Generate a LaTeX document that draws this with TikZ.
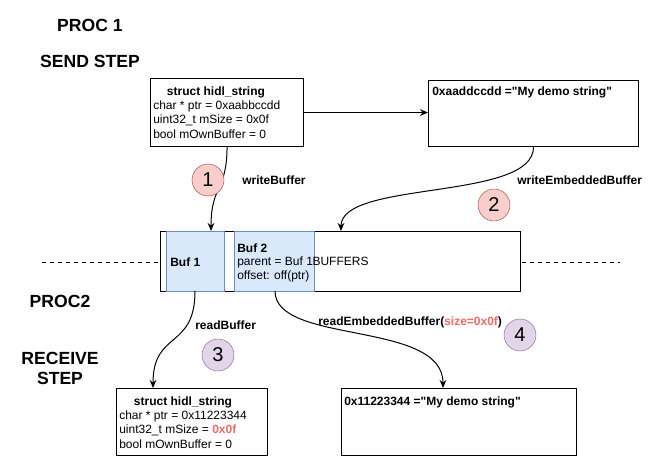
\documentclass[tikz,border=0pt]{standalone}
\usepackage{fontspec}
\setmainfont{Liberation Sans}[Ligatures=TeXOff]
\usetikzlibrary{arrows.meta,calc}
\definecolor{redfill}{HTML}{F8CECC}
\definecolor{redline}{HTML}{B85450}
\definecolor{purfill}{HTML}{E1D5E7}
\definecolor{purline}{HTML}{9673A6}
\definecolor{bluefill}{HTML}{DAE8FC}
\definecolor{blueline}{HTML}{6C8EBF}
\definecolor{redtext}{HTML}{EA6B66}
\begin{document}
\begin{tikzpicture}[x=0.75pt,y=-0.75pt,
  box/.style={draw=black,fill=white,line width=0.8pt,anchor=north west,inner sep=0pt},
  bbox/.style={draw=blueline,fill=bluefill,line width=0.8pt,anchor=north west,inner sep=0pt},
  txt/.style={inner sep=0pt,anchor=west,font=\fontsize{9}{10.5}\selectfont},
  btxt/.style={txt,font=\fontsize{9}{10.5}\selectfont\bfseries},
  title/.style={inner sep=0pt,font=\fontsize{13.2}{15}\selectfont\bfseries},
  redcirc/.style={circle,draw=redline,fill=redfill,minimum size=24pt,inner sep=0pt,font=\fontsize{15}{15}\selectfont},
  purcirc/.style={circle,draw=purline,fill=purfill,minimum size=24pt,inner sep=0pt,font=\fontsize{15}{15}\selectfont},
  arr/.style={-{Stealth[length=6pt,width=5pt]},line width=0.75pt},
  dline/.style={dashed,dash pattern=on 3pt off 3pt,line width=0.6pt}]
\useasboundingbox (0,0) rectangle (665,457);

% titles
\node[title] (t1) at (90,25) {PROC 1};
\node[title] (t2) at (90,61) {SEND STEP};
\node[title] (t3) at (60,301) {PROC2};
\node[title,align=center,font=\fontsize{13.2}{15}\selectfont\bfseries] (t4) at (60,368) {RECEIVE\\STEP};

% dashed separator
\coordinate (dl) at (42,262);
\coordinate (dr) at (620,262);
\draw[dline] (dl) -- (dr);

% top boxes
\node[box,minimum width=153*0.75pt,minimum height=68*0.75pt] (s1) at (150,78) {};
\node[btxt,anchor=center] (s1t) at (216,92) {struct hidl\_string};
\node[txt] (s1a) at (153,106) {char * ptr = 0xaabbccdd};
\node[txt] (s1b) at (153,120) {uint32\_t mSize = 0x0f};
\node[txt] (s1c) at (153,134) {bool mOwnBuffer = 0};

\node[box,minimum width=210*0.75pt,minimum height=66*0.75pt] (m1) at (428,80) {};
\node[btxt] (m1t) at (432,92) {0xaaddccdd ="My demo string"};

\draw[arr] (s1.east) -- (s1.east -| m1.west);

% buffers
\node[box,minimum width=360*0.75pt,minimum height=60*0.75pt,font=\fontsize{9}{10.5}\selectfont] (big) at (160,231) {};
\node[bbox,minimum width=58*0.75pt,minimum height=60*0.75pt] (b1) at (166,231) {};
\node[bbox,minimum width=80*0.75pt,minimum height=60*0.75pt] (b2) at (234,231) {};
\node[txt,anchor=center] (bigt) at (big.center) {BUFFERS};
\node[btxt] (b1t) at (170,262) {Buf 1};
\node[btxt] (b2t) at (237,248) {Buf 2};
\node[txt] (b2a) at (237,262) {parent = Buf 1};
\node[txt] (b2b) at (237,276) {offset: off(ptr)};

% bottom boxes
\node[box,minimum width=151*0.75pt,minimum height=67*0.75pt] (s2) at (116,388) {};
\node[btxt,anchor=center] (s2t) at (183,402) {struct hidl\_string};
\node[txt] (s2a) at (119,416) {char * ptr = 0x11223344};
\node[txt] (s2b) at (119,430) {uint32\_t mSize = \textcolor{redtext}{\bfseries 0x0f}};
\node[txt] (s2c) at (119,444) {bool mOwnBuffer = 0};

\node[box,minimum width=235*0.75pt,minimum height=67*0.75pt] (m2) at (341,388) {};
\node[btxt] (m2t) at (344,402) {0x11223344 ="My demo string"};

% connector end points
\coordinate (e1) at (211,231);
\coordinate (e2) at (341,231);
\coordinate (e3) at (153,388);
\coordinate (e4) at (443,388);
\coordinate (o3) at (195,291);
\coordinate (o4) at (275,291);

% curves
\draw[arr] (s1.south) .. controls ($(s1.south)+(0,44)$) and ($(e1)+(0,-46)$) .. (e1);
\draw[arr] (m1.south) .. controls ($(m1.south)+(0,54)$) and ($(e2)+(0,-51)$) .. (e2);
\draw[arr] (o3) .. controls ($(o3)+(0,59)$) and ($(e3)+(0,-58)$) .. (e3);
\draw[arr] (o4) .. controls ($(o4)+(0,54)$) and ($(e4)+(0,-68)$) .. (e4);

% circles and labels
\node[redcirc] (c1) at (208,180) {1};
\node[btxt] (l1) at (242,180) {writeBuffer};
\node[redcirc] (c2) at (494,205) {2};
\node[btxt] (l2) at (517,180) {writeEmbeddedBuffer};
\node[purcirc] (c3) at (218,355) {3};
\node[btxt] (l3) at (195,325) {readBuffer};
\node[purcirc] (c4) at (520,335) {4};
\node[btxt] (l4) at (318,322) {readEmbeddedBuffer(\textcolor{redtext}{size=0x0f})};
\end{tikzpicture}
\end{document}
